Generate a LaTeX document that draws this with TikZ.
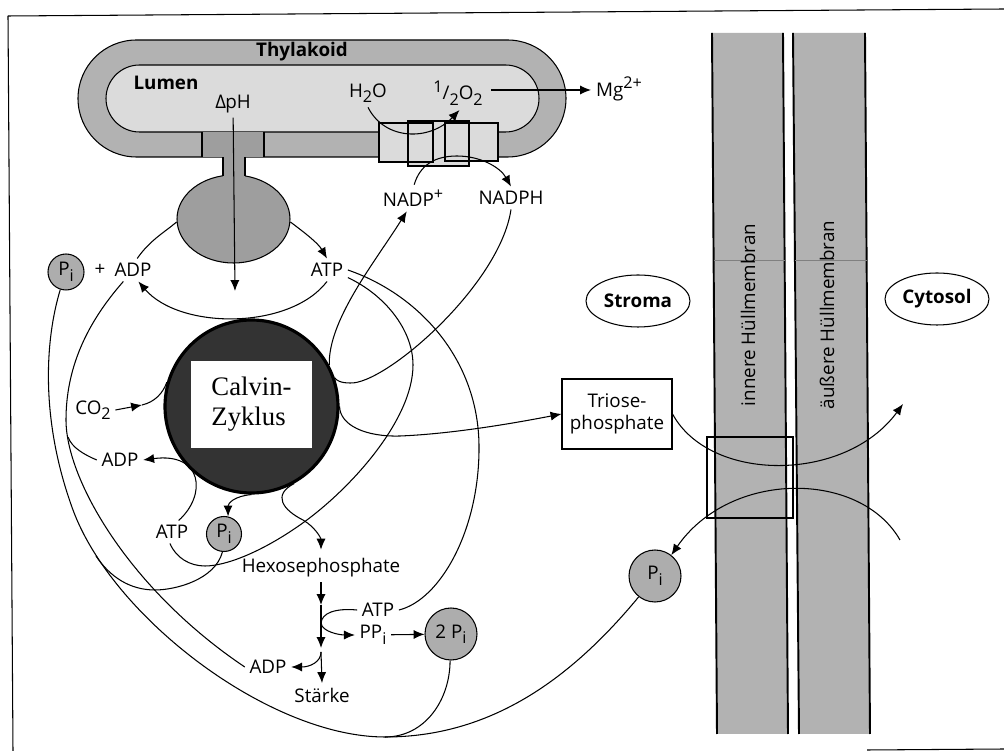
\documentclass[tikz,border=0pt]{standalone}
\usepackage{fontspec}
\usetikzlibrary{shapes.geometric,arrows.meta}
\setmainfont{Open Sans}
\newfontfamily\calvinfont{Liberation Serif}
\newcommand{\lblfont}{\fontsize{5.35}{6.4}\selectfont}
\newcommand{\lowtxt}[1]{\raisebox{-.55ex}{\fontsize{4.6}{5}\selectfont #1}}
\newcommand{\hightxt}[1]{\raisebox{.75ex}{\fontsize{4.6}{5}\selectfont #1}}
\definecolor{membr}{gray}{.7}
\definecolor{lumn}{gray}{.86}
\definecolor{synth}{gray}{.62}
\definecolor{phosph}{gray}{.68}
\definecolor{calv}{gray}{.2}
\begin{document}
\begin{tikzpicture}[>={Latex[length=3.1pt,width=2.6pt]},x=1cm,y=-1cm,line width=.3pt,
    every node/.style={inner sep=1.2pt,font=\lblfont},
    phos/.style={circle,draw,fill=phosph,inner sep=0},
    room/.style={ellipse,draw,minimum width=1.04cm,minimum height=.52cm,inner sep=0,font=\lblfont\bfseries},
    wall/.style={line width=.55pt}]
\useasboundingbox (0,0) rectangle (10.04,7.51);
\draw(.08,.16)--(10.04,.09);
\draw(.08,.16)--(.13,7.51);
\draw(8.67,7.5)--(10.04,7.49);
% thylakoid with ATP synthase and the three complexes
\draw[fill=membr,rounded corners=.585cm](.78,.4)rectangle(5.66,1.57);
\draw[fill=lumn,rounded corners=.335cm](1.06,.65)rectangle(5.39,1.32);
\node[ellipse,draw,fill=synth,minimum width=1.13cm,minimum height=.88cm,inner sep=0](bulb) at (2.335,2.19){};
\fill[synth](2.23,1.57)rectangle(2.45,1.8);
\draw(2.23,1.57)--(2.23,1.76);
\draw(2.45,1.57)--(2.45,1.76);
\fill[synth](2.02,1.32)rectangle(2.64,1.57);
\draw(2.02,1.32)--(2.02,1.57);
\draw(2.64,1.32)--(2.64,1.57);
\foreach \xa/\ya/\xb/\yb in {3.79/1.23/4.33/1.62,4.08/1.21/4.69/1.66,4.45/1.23/4.98/1.61}
    \fill[lumn](\xa,\ya)rectangle(\xb,\yb);
\foreach \xa/\ya/\xb/\yb in {3.79/1.23/4.33/1.62,4.08/1.21/4.69/1.66,4.45/1.23/4.98/1.61}
    \draw[line width=.35pt](\xa,\ya)rectangle(\xb,\yb);
% envelope membranes
\fill[membr](7.12,.33)--(7.17,7.34)--(7.88,7.34)--(7.83,.33)--cycle;
\fill[membr](7.93,.33)--(7.99,7.34)--(8.70,7.34)--(8.65,.33)--cycle;
\draw[wall](7.12,.33)--(7.17,7.34);
\draw[wall](7.83,.33)--(7.88,7.34);
\draw[wall](7.93,.33)--(7.99,7.34);
\draw[wall](8.65,.33)--(8.70,7.34);
\draw[line width=.15pt,gray](7.14,2.6)--(7.85,2.6);
\draw[line width=.15pt,gray](7.95,2.6)--(8.67,2.6);
\node[rotate=90] (innere) at (7.48,3.15){innere Hüllmembran};
\node[rotate=90] (aeussere) at (8.27,3.15){äußere Hüllmembran};
\draw[wall](7.07,4.37)rectangle(7.93,5.18);
% labels
\node[font=\lblfont\bfseries] (thyl) at (3.02,.52){Thylakoid};
\node[font=\lblfont\bfseries] (lumen) at (1.66,.83){Lumen};
\node (dph) at (2.33,1.04){Δ\kern-.2pt pH};
\node (hho) at (3.68,.93){H\lowtxt{2}O};
\node (oxy) at (4.58,.93){\hightxt{1}/\lowtxt{2}O\lowtxt{2}};
\node (mg) at (6.19,.89){Mg\hightxt{2+}};
\node (nadp) at (4.13,1.98){NADP\hightxt{+}};
\node (nadph) at (5.11,1.98){NADPH};
\node[phos,minimum size=.36cm] (pia) at (.66,2.72){P\lowtxt{i}};
\node (plus) at (1,2.7){+};
\node (adpa) at (1.33,2.7){ADP};
\node (atpa) at (3.27,2.7){ATP};
\node[room] (stroma) at (6.38,3.01){Stroma};
\node[room] (cytosol) at (9.37,2.99){Cytosol};
\node[circle,draw=black,line width=.9pt,fill=calv,minimum size=1.73cm,inner sep=0] (calvin) at (2.515,4.065){};
\node[fill=white,minimum width=1.21cm,minimum height=.87cm,inner sep=0,align=left,font=\calvinfont\fontsize{7.6}{8.6}\selectfont] (cname) at (2.515,4.045){Calvin-\\Zyklus};
\node[draw,minimum width=1.1cm,minimum height=.7cm,inner sep=0,align=center] (triose) at (6.17,4.14){Triose-\\phosphate};
\node (coo) at (.93,4.1){CO\lowtxt{2}};
\node (adpb) at (1.2,4.6){ADP};
\node (atpb) at (1.72,5.32){ATP};
\node[phos,minimum size=.35cm] (pib) at (2.24,5.34){P\lowtxt{i}};
\node (hexose) at (3.21,5.68){Hexosephosphate};
\node (atpc) at (3.78,6.1){ATP};
\node (ppi) at (3.73,6.35){PP\lowtxt{i}};
\node[phos,minimum size=.52cm] (pid) at (4.51,6.34){2 P\lowtxt{i}};
\node (adpc) at (2.68,6.67){ADP};
\node (staerke) at (3.22,6.95){Stärke};
\node[phos,minimum size=.52cm] (pic) at (6.55,5.76){P\lowtxt{i}};
\coordinate (dpend) at (2.35,2.91);
\coordinate (oxyout) at (4.91,.9);
\coordinate (mgin) at (5.91,.9);
\coordinate (cooin) at (1.42,4.05);
\coordinate (mergea) at (.68,4.37);
\coordinate (mergeb) at (.96,5.56);
\coordinate (mergec) at (3.85,7.37);
\coordinate (stepa) at (3.21,6.05);
\coordinate (stepb) at (3.21,6.48);
\coordinate (stepc) at (3.21,6.52);
\coordinate (joint) at (3.21,6.23);
\coordinate (pifree) at (9,5.4);
\coordinate (triend) at (9.03,4.04);
% light reaction
\draw[->](dph)--(dpend);
\draw[->](hho.south)..controls(3.85,1.41)and(4.3,1.41)..(oxy.-85);
\draw[->](oxyout)--(mgin);
\draw[->](nadp.85)..controls(4.2,1.65)and(4.35,1.56)..(4.57,1.56)..controls(4.8,1.56)and(5,1.67)..(nadph.north);
\draw[->](bulb.-3)..controls(3.05,2.33)and(3.18,2.43)..(atpa.north);
\draw(adpa.70)..controls(1.5,2.4)and(1.65,2.32)..(bulb.183);
\draw[->](atpa.south)..controls(2.9,3.3)and(1.8,3.3)..(adpa.-65);
% Calvin cycle in and out
\draw[->](calvin.28)..controls(3.28,3.2)and(3.75,2.62)..(nadp.-115);
\draw(nadph.south)..controls(5,2.85)and(3.85,3.85)..(3.5,3.83)..controls(3.4,3.83)and(3.36,3.8)..(calvin.19);
\draw[->](calvin.0)..controls(3.4,4.25)and(3.65,4.37)..(4,4.36)..controls(4.5,4.34)and(5.1,4.24)..(triose.west);
\draw[->](coo.east)--(cooin);
\draw(cooin)..controls(1.55,4.02)and(1.63,3.93)..(calvin.164);
\draw[->](atpb.60)..controls(2.07,4.95)and(2.03,4.52)..(adpb.east);
\draw[->](calvin.-90)..controls(2.35,4.96)and(2.28,5.03)..(pib.77);
\draw[->,shorten >=1.2pt](calvin.-61)..controls(2.72,4.95)and(2.83,5.1)..(3.03,5.2)..controls(3.15,5.27)and(3.21,5.38)..(hexose.north);
% lines from ATP and ADP
\draw(atpa.east)..controls(4.2,2.95)and(4.78,3.6)..(4.79,4.45)..controls(4.8,5.3)and(4.4,6)..(atpc.east);
\draw(atpa.-20)..controls(3.85,2.95)and(4.13,3.3)..(4.13,3.65)..controls(4.13,4.2)and(3.5,4.9)..(3,5.25)..controls(2.6,5.53)and(2.25,5.66)..(2.05,5.66)..controls(1.9,5.66)and(1.76,5.58)..(atpb.-100);
\draw(adpa.-130)..controls(.85,3.25)and(.66,3.7)..(.66,4.2)..controls(.66,4.8)and(1.3,5.9)..(adpc.west);
\draw(adpb.west)..controls(.85,4.55)and(.72,4.48)..(mergea);
\draw(pib.-95)..controls(2.15,5.8)and(1.75,5.9)..(1.55,5.9)..controls(1.3,5.9)and(1.1,5.77)..(mergeb);
% starch branch
\draw[->](hexose.south)--(stepa);
\draw[->](stepa)--(stepb);
\draw[->](stepc)--(staerke.north);
\draw[->](stepc)..controls(3.21,6.62)and(3.1,6.67)..(adpc.east);
\draw(atpc.west)..controls(3.35,6.08)and(3.22,6.13)..(joint);
\draw[->](joint)..controls(3.22,6.32)and(3.4,6.35)..(ppi.west);
\draw[->](ppi)--(pid);
\draw(pid.-92)..controls(4.5,7)and(4.25,7.37)..(mergec);
% the long return of phosphate
\draw(pia.-108)..controls(.45,3.4)and(.4,4.2)..(.73,5.1)..controls(1.13,6.18)and(2.7,7.37)..(mergec)..controls(4.9,7.37)and(5.7,6.8)..(pic.232);
% transport across the envelope
\draw[->](triose.east)..controls(7.1,4.83)and(8.45,4.83)..(triend);
\draw[->](pifree)..controls(8.6,4.7)and(7.3,4.7)..(pic.52);
\end{tikzpicture}
\end{document}
